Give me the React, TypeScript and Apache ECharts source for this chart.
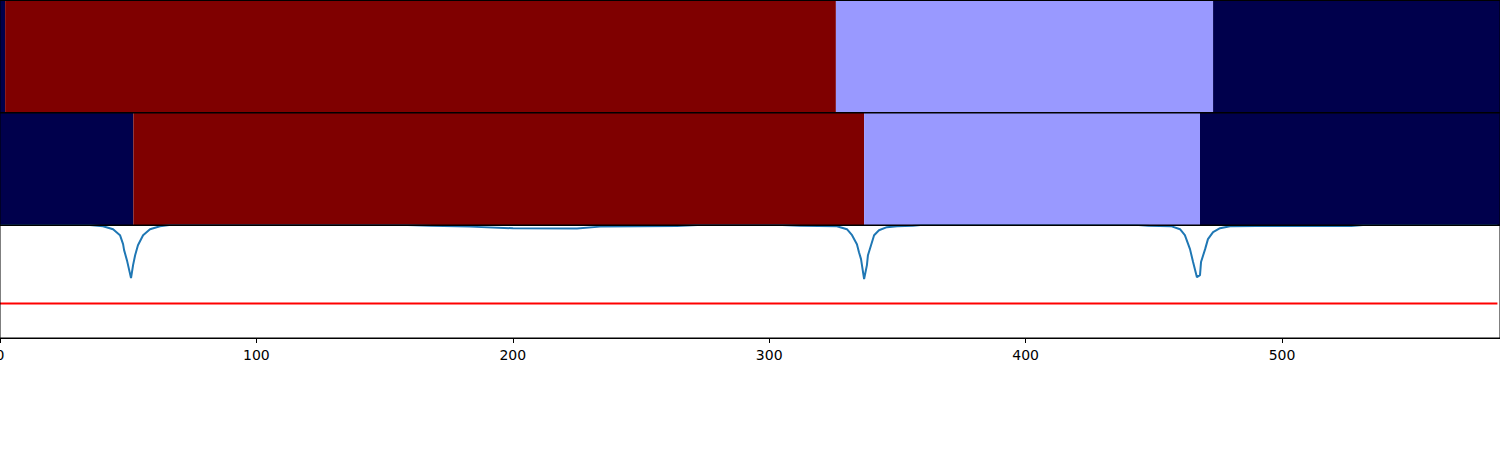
import React, { useEffect, useRef } from "react";
import * as echarts from "echarts";

const X_MIN = 0;
const X_MAX = 585;
const X_INTERVAL = 100;

const segColors = ["#00004c", "#7f0000", "#9999ff"];

// Row 1 segments (start, end, label)
const row1Starts = [0, 2, 326, 473.1];
const row1Ends = [2, 326, 473.1, 585];
const row1Labels = [0, 1, 2, 0];

// Row 2 segments
const row2Starts = [0, 52, 337, 468];
const row2Ends = [52, 337, 468, 585];
const row2Labels = [0, 1, 2, 0];

// Score curve (x, value)
const scoreX = [
  0, 35, 40.2, 44.1, 46.8, 48.0, 48.4, 49.5, 51.1, 51.9, 52.7, 53.8, 55.8, 58.5, 62.4, 66,
  150, 168, 183.3, 200.1, 225.0, 234.0, 264.0, 272,
  305, 312, 326.4, 330.3, 332.3, 334.2, 335.0, 335.8, 337.0, 338.1, 338.5, 339.7, 340.9, 342.8, 345.9, 349.8, 356, 362,
  440, 448, 456.7, 460.2, 462.1, 464.1, 465.3, 466.8, 468.0, 468.4, 470.0, 471.1, 473.1, 475.8, 479.7, 490, 507, 527, 535, 584,
];
const scoreY = [
  1.01, 1.005, 0.994, 0.967, 0.914, 0.834, 0.781, 0.692, 0.532, 0.648, 0.736, 0.825, 0.914, 0.967, 0.994, 1.005,
  1.01, 0.998, 0.99, 0.975, 0.974, 0.99, 0.995, 1.005,
  1.005, 0.997, 0.994, 0.967, 0.914, 0.834, 0.763, 0.701, 0.524, 0.648, 0.736, 0.825, 0.914, 0.958, 0.985, 0.994, 0.998, 1.01,
  1.01, 0.997, 0.994, 0.967, 0.914, 0.79, 0.675, 0.541, 0.559, 0.675, 0.79, 0.879, 0.941, 0.976, 0.994, 0.996, 0.996, 0.996, 1.01, 1.01,
];

const threshold = 0.306;
const thresholdX = [0, 584];

function segData(starts: number[], ends: number[], labels: number[]) {
  return starts.map((s, i) => [s, ends[i], labels[i]]);
}

function renderSeg(params: any, api: any) {
  const s = api.value(0);
  const e = api.value(1);
  const c = api.value(2);
  const p0 = api.coord([s, 1]);
  const p1 = api.coord([e, 0]);
  return {
    type: "rect",
    shape: { x: p0[0], y: p0[1], width: p1[0] - p0[0], height: p1[1] - p0[1] },
    style: { fill: segColors[c] },
  };
}

export default function App() {
  const ref = useRef<HTMLDivElement>(null);
  useEffect(() => {
    document.body.style.margin = "0";
    const chart = echarts.init(ref.current!, undefined, { renderer: "svg" });
    const gridBase = {
      left: 0, right: 0, show: true, borderColor: "#000", borderWidth: 1, z: 10,
      backgroundColor: "transparent", containLabel: false, outerBoundsMode: "none",
    };
    const hiddenX = (gi: number) => ({
      type: "value", gridIndex: gi, min: X_MIN, max: X_MAX, interval: X_INTERVAL, show: false,
    });
    const hiddenY = (gi: number) => ({ type: "value", gridIndex: gi, min: 0, max: 1, show: false });
    chart.setOption({
      animation: false,
      grid: [
        { ...gridBase, top: 0.5, height: 112 },
        { ...gridBase, top: 113, height: 112 },
        { ...gridBase, top: 225.5, height: 112.5 },
      ],
      xAxis: [
        hiddenX(0),
        hiddenX(1),
        {
          type: "value", gridIndex: 2, min: X_MIN, max: X_MAX, interval: X_INTERVAL,
          axisLine: { show: true, lineStyle: { color: "#000", width: 1 } },
          axisTick: { show: true, length: 5, lineStyle: { color: "#000", width: 1 } },
          axisLabel: { show: true, color: "#000", fontSize: 14, fontFamily: "DejaVu Sans", margin: 10, showMaxLabel: false },
          splitLine: { show: false },
        },
      ],
      yAxis: [hiddenY(0), hiddenY(1), hiddenY(2)],
      series: [
        {
          type: "custom", xAxisIndex: 0, yAxisIndex: 0, renderItem: renderSeg,
          encode: { x: [0, 1] }, data: segData(row1Starts, row1Ends, row1Labels),
        },
        {
          type: "custom", xAxisIndex: 1, yAxisIndex: 1, renderItem: renderSeg,
          encode: { x: [0, 1] }, data: segData(row2Starts, row2Ends, row2Labels),
        },
        {
          type: "line", xAxisIndex: 2, yAxisIndex: 2, symbol: "none", clip: true,
          lineStyle: { color: "#1f77b4", width: 2 },
          data: scoreX.map((x, i) => [x, scoreY[i]]),
        },
        {
          type: "line", xAxisIndex: 2, yAxisIndex: 2, symbol: "none", clip: true,
          lineStyle: { color: "#ff0000", width: 2 },
          data: thresholdX.map((x) => [x, threshold]),
        },
      ],
    });
    return () => chart.dispose();
  }, []);
  return <div ref={ref} style={{ width: 1500, height: 450 }} />;
}
